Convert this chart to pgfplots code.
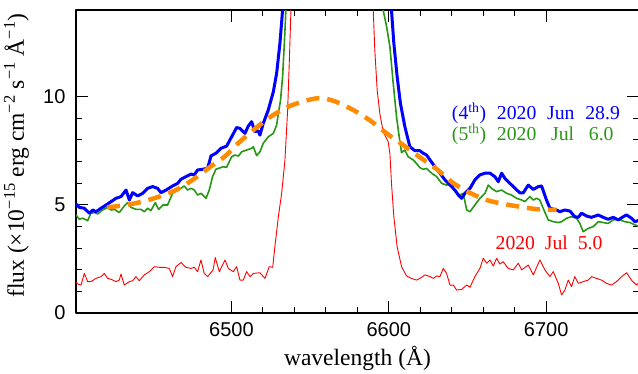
\documentclass[border=0pt]{standalone}
\usepackage{fontspec}
\setmainfont{Liberation Serif}
\newfontfamily\ticksfont{Liberation Sans}
\usepackage{pgfplots}
\pgfplotsset{compat=1.18}
\definecolor{cblue}{rgb}{0,0,1}
\definecolor{cgreen}{RGB}{40,150,20}
\definecolor{corange}{RGB}{255,140,0}
\definecolor{cred}{RGB}{255,0,0}
\begin{document}
\begin{tikzpicture}
\begin{axis}[
  at={(0,0)}, anchor=south west,
  scale only axis, width=563pt, height=303pt,
  xmin=6401.2, xmax=6759, ymin=0, ymax=14,
  xtick={6500,6600,6700}, ytick={0,5,10},
  minor x tick num=4, minor y tick num=4,
  major tick length=12pt, minor tick length=6pt,
  tick align=inside,
  axis line style={line width=1.3pt},
  every tick/.style={black, line width=1pt},
  /pgf/number format/assume math mode=true,
  /pgf/number format/1000 sep={},
  tick label style={font=\fontsize{20}{24}\selectfont\ticksfont},
  xticklabel style={yshift=-6pt},
  yticklabel style={xshift=-7pt},
  label style={font=\fontsize{23.5}{28}\selectfont},
  xlabel={wavelength (Å)},
  ylabel={flux (×10\textsuperscript{−15} erg cm\textsuperscript{−2} s\textsuperscript{−1} Å\textsuperscript{−1})},
  xlabel style={at={(axis description cs:0.5,0)}, anchor=base, yshift=-52pt},
  ylabel style={at={(axis description cs:0,0.52)}, anchor=base, rotate=0, yshift=52pt},
  line join=round,
]
\addplot[cred, line width=0.9pt] coordinates {
(6401.2,1.45) (6402.3,1.34) (6404.4,1.29) (6406.5,1.83) (6408.6,1.45) (6410.7,1.45)
(6413.9,1.60) (6417.1,1.68) (6419.2,1.83) (6421.3,1.60) (6423.4,1.56) (6426.6,1.45)
(6428.7,1.52) (6429.8,1.80) (6431.9,1.29) (6435.1,1.45) (6437.2,1.49) (6439.3,1.68)
(6441.4,1.49) (6444.6,1.76) (6447.8,1.91) (6451.0,2.14) (6454.2,2.11) (6457.4,2.11)
(6460.5,2.06) (6462.6,1.68) (6464.7,2.14) (6467.9,2.33) (6471.1,2.11) (6474.3,2.06)
(6476.4,2.11) (6478.5,1.91) (6480.6,2.45) (6482.7,1.83) (6484.9,1.68) (6488.3,1.99)
(6489.7,2.56) (6492.3,1.91) (6495.9,2.45) (6498.0,2.06) (6501.2,1.91) (6503.3,2.14)
(6505.4,1.52) (6507.5,1.52) (6509.6,1.91) (6511.8,1.68) (6513.9,1.83) (6518.1,1.86)
(6521.3,1.60) (6524.0,2.14) (6526.2,2.11) (6527.6,3.06) (6529.8,4.45) (6531.9,5.53)
(6534.0,7.07) (6535.7,9.38) (6536.8,11.69) (6537.8,14.0) (6539.5,17) (6588.5,17)
(6590.1,14.0) (6591.1,12.15) (6592.6,10.30) (6594.3,9.22) (6596.4,8.38) (6599.6,7.91)
(6600.7,7.37) (6601.7,5.99) (6603.2,4.45) (6605.3,3.06) (6608.1,2.14) (6611.3,1.71)
(6614.4,1.60) (6617.6,1.52) (6619.8,1.60) (6623.0,1.76) (6626.2,1.68) (6628.3,1.60)
(6630.4,1.71) (6632.5,1.68) (6634.6,2.06) (6636.7,1.83) (6638.9,1.29) (6641.0,1.29)
(6643.1,1.06) (6646.3,1.09) (6649.5,1.29) (6651.6,1.19) (6654.7,1.68) (6657.9,2.06)
(6660.0,2.53) (6662.2,2.30) (6664.3,2.45) (6666.4,2.17) (6668.5,2.53) (6670.6,2.26)
(6672.7,2.37) (6675.9,2.06) (6679.1,1.99) (6682.3,2.30) (6684.4,1.99) (6686.5,2.10)
(6688.6,2.22) (6691.8,1.76) (6696.0,2.45) (6699.2,1.99) (6702.4,1.68) (6704.5,1.91)
(6707.7,1.37) (6709.8,0.83) (6711.9,1.06) (6714.0,1.52) (6716.1,1.22) (6718.2,1.68)
(6720.4,1.37) (6723.5,1.45) (6726.7,1.52) (6728.8,1.68) (6732.0,1.60) (6735.2,1.52)
(6738.4,1.37) (6741.5,1.29) (6744.7,1.45) (6747.9,1.68) (6751.1,1.86) (6754.2,1.52)
(6757.4,1.29) (6759.5,1.45)
};
\addplot[cgreen, line width=1.6pt] coordinates {
(6401.2,4.53) (6403.3,4.33) (6405.4,4.38) (6408.6,4.27) (6410.7,4.61) (6412.8,4.64)
(6415.0,4.58) (6418.1,4.76) (6421.3,4.88) (6423.4,4.76) (6425.6,4.79) (6428.7,4.64)
(6431.9,4.95) (6434.0,5.10) (6436.2,4.88) (6439.3,4.79) (6442.5,4.79) (6444.6,4.68)
(6446.7,4.84) (6448.8,4.73) (6451.6,5.10) (6453.7,4.79) (6456.4,4.99) (6459.4,4.99)
(6462.6,5.53) (6465.8,5.68) (6467.9,5.76) (6470.0,5.87) (6472.1,5.68) (6474.3,5.76)
(6476.4,5.68) (6478.5,5.45) (6480.6,5.53) (6483.8,5.30) (6485.9,5.68) (6488.0,6.30)
(6490.1,6.64) (6494.8,6.76) (6496.9,6.73) (6500.1,7.22) (6502.2,7.30) (6504.4,7.25)
(6506.5,7.45) (6509.6,7.53) (6512.8,7.61) (6513.9,7.68) (6516.0,7.27) (6518.1,7.45)
(6520.2,7.84) (6523.4,8.14) (6526.6,8.30) (6528.7,8.68) (6529.8,9.22) (6531.2,9.84)
(6532.5,10.92) (6533.6,12.46) (6534.6,14.0) (6536,16) (6591,16)
(6596.4,14.0) (6598.6,13.23) (6600.7,12.30) (6602.8,10.61) (6604.9,9.07) (6606.6,8.14)
(6608.1,7.41) (6610.2,7.53) (6612.3,7.22) (6615.5,7.07) (6617.6,6.91) (6619.7,6.72)
(6621.9,6.64) (6624.0,6.68) (6627.2,6.46) (6630.4,6.30) (6633.6,5.99) (6636.7,5.91)
(6639.9,5.99) (6642.0,5.61) (6645.2,5.45) (6647.3,5.53) (6649.5,4.76) (6651.6,4.68)
(6654.7,4.99) (6657.9,5.30) (6661.1,5.53) (6663.2,5.91) (6665.3,5.76) (6668.5,5.61)
(6671.7,5.68) (6674.9,5.53) (6678.0,5.45) (6681.2,5.30) (6684.4,5.22) (6686.5,5.15)
(6689.7,5.38) (6691.8,5.22) (6693.9,5.30) (6696.0,5.22) (6698.1,4.84) (6701.3,4.30)
(6704.5,4.22) (6707.7,4.18) (6709.8,4.22) (6713.0,4.38) (6716.1,4.45) (6719.3,4.38)
(6721.4,4.14) (6723.5,3.76) (6726.7,3.91) (6729.9,3.99) (6733.1,4.22) (6736.2,4.18)
(6739.4,4.14) (6742.6,4.30) (6744.7,4.33) (6746.8,4.30) (6750.0,4.22) (6753.2,4.18)
(6756.4,4.07) (6759.5,3.99)
};
\addplot[cblue, line width=3pt] coordinates {
(6401.2,5.04) (6403.3,4.88) (6406.5,4.84) (6409.7,4.61) (6411.8,4.76) (6413.9,4.68)
(6417.1,4.84) (6420.3,4.99) (6423.4,5.14) (6426.6,5.30) (6429.8,5.38) (6433.0,5.68)
(6435.1,5.22) (6437.2,5.56) (6440.4,5.41) (6443.6,5.53) (6446.7,5.76) (6449.9,5.84)
(6453.1,5.76) (6455.2,5.56) (6458.4,5.68) (6462.6,5.87) (6465.8,5.99) (6467.9,6.18)
(6471.1,6.30) (6474.3,6.42) (6476.4,6.38) (6478.5,6.61) (6481.7,6.64) (6484.9,6.69)
(6487.0,7.26) (6490.1,7.38) (6493.3,7.61) (6496.9,7.71) (6500.1,8.14) (6503.3,8.57)
(6505.4,8.53) (6508.6,8.30) (6510.7,8.64) (6512.8,8.84) (6514.9,8.38) (6517.0,8.42)
(6518.1,8.22) (6520.2,8.76) (6523.4,9.38) (6526.6,10.22) (6528.7,11.07) (6530.8,12.46)
(6532.5,14.0) (6535,17) (6599,17) (6601.7,14.0) (6603.2,12.46) (6605.3,10.92)
(6607.4,9.68) (6610.2,8.61) (6613.4,7.68) (6616.6,7.50) (6619.7,7.50) (6621.9,7.38)
(6624.0,7.30) (6626.2,7.07) (6629.3,6.76) (6632.5,6.46) (6635.7,6.15) (6638.9,5.91)
(6642.0,5.68) (6644.2,5.45) (6646.3,5.30) (6648.4,5.53) (6651.6,5.76) (6654.7,6.15)
(6657.9,6.38) (6661.1,6.46) (6664.3,6.46) (6667.4,6.30) (6669.6,6.07) (6671.7,6.46)
(6673.8,6.22) (6677.0,5.99) (6680.2,5.76) (6683.3,5.55) (6685.4,5.55) (6688.6,5.91)
(6691.8,5.71) (6695.0,5.84) (6697.1,5.87) (6700.2,5.22) (6702.4,4.84) (6706.6,4.76)
(6708.7,4.68) (6711.9,4.76) (6715.1,4.71) (6718.2,4.45) (6720.4,4.42) (6722.5,4.61)
(6725.7,4.48) (6728.8,4.42) (6733.1,4.53) (6736.2,4.42) (6739.4,4.33) (6742.6,4.42)
(6745.8,4.30) (6749.0,4.45) (6751.1,4.53) (6754.2,4.38) (6756.4,4.22) (6759.5,4.30)
};
\addplot[corange, line width=4.5pt, dash pattern=on 13pt off 8pt, smooth] coordinates {
(6421,4.88) (6433,4.99) (6443.6,5.15) (6454.2,5.38) (6464.7,5.68) (6475.3,6.15)
(6485.9,6.72) (6496.5,7.28) (6503.3,7.78) (6513.9,8.45) (6524.5,9.05) (6535.1,9.5)
(6545.6,9.78) (6554.1,9.92) (6558.3,9.93) (6566.8,9.75) (6577.4,9.38) (6588,8.9)
(6598.6,8.3) (6609.1,7.76) (6619.7,7.2) (6630.4,6.65) (6641,6.0) (6651.6,5.55)
(6662.2,5.22) (6672.7,5.04) (6683.3,4.91) (6693.9,4.8) (6706.6,4.76)
};
\node[cblue, anchor=base west, inner sep=0pt, font=\fontsize{19.7}{24}\selectfont] at (axis cs:6640,8.92) {(4\textsuperscript{th})\hspace{0.55em}2020\hspace{0.55em}Jun\hspace{0.55em}28.9};
\node[cgreen, anchor=base west, inner sep=0pt, font=\fontsize{19.7}{24}\selectfont] at (axis cs:6640,7.96) {(5\textsuperscript{th})\hspace{0.55em}2020\hspace{0.75em}Jul\hspace{0.75em}6.0};
\node[cred, anchor=base west, inner sep=0pt, font=\fontsize{19.7}{24}\selectfont] at (axis cs:6667.8,2.94) {2020\hspace{0.5em}Jul\hspace{0.5em}5.0};
\end{axis}
\pgfresetboundingbox
\path[use as bounding box] (-76pt,-60pt) rectangle (562pt,313pt);
\end{tikzpicture}
\end{document}
